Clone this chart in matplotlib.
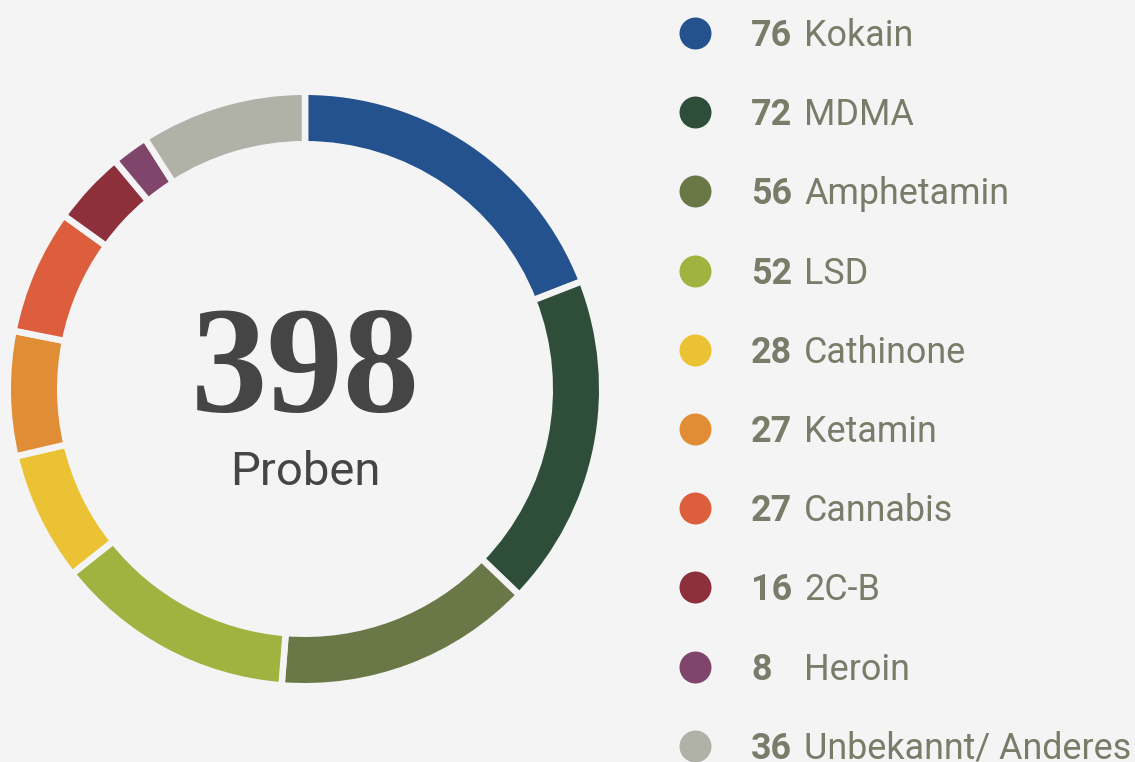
import matplotlib
matplotlib.use("Agg")
import matplotlib.pyplot as plt

categories = ["Kokain", "MDMA", "Amphetamin", "LSD", "Cathinone", "Ketamin",
              "Cannabis", "2C-B", "Heroin", "Unbekannt/ Anderes"]
values = [76, 72, 56, 52, 28, 27, 27, 16, 8, 36]
colors = ["#24528e", "#2e4e3a", "#6a7848", "#a0b240", "#ebc233", "#e18d35",
          "#dc5e3c", "#8e303c", "#80456a", "#b0b1a7"]
total_label = "398"
sub_label = "Proben"

W, H = 1135, 762
DPI = 100
bg = "#f4f4f4"
fig = plt.figure(figsize=(W / DPI, H / DPI), dpi=DPI, facecolor=bg)
ax = fig.add_axes([0, 0, 1, 1])
ax.set_facecolor(bg)

cx, cy = 305, H - 389
gap_px = 6.5
R, width = 294 + gap_px / 2, 46 + gap_px
ax.pie(values, colors=colors, startangle=90, counterclock=False,
       center=(cx, cy), radius=R,
       wedgeprops=dict(width=width, edgecolor=bg, linewidth=gap_px * 72 / DPI))

ax.text(cx, H - 412, total_label, ha="center", va="baseline",
        fontsize=110, fontweight="bold", family="Liberation Serif", color="#454545")
ax.text(cx, H - 485, sub_label, ha="center", va="baseline",
        fontsize=34, family="Roboto", color="#454545")

txt_col = "#7a7c69"
row0, step = 33, 79.2
for i, (c, v, col) in enumerate(zip(categories, values, colors)):
    yc = row0 + i * step
    ax.scatter([695], [H - yc], s=530, color=col, linewidths=0, zorder=3)
    yb = H - (yc + 13.0)
    ax.text(751, yb, str(v), ha="left", va="baseline", fontsize=25.8,
            fontweight="bold", family="Roboto", color=txt_col)
    ax.text(804, yb, c, ha="left", va="baseline", fontsize=25.8,
            family="Roboto", color=txt_col)

ax.set_xlim(0, W)
ax.set_ylim(0, H)
ax.set_aspect("equal")
ax.set_axis_off()
fig.savefig("out.png", dpi=DPI, facecolor=bg)
